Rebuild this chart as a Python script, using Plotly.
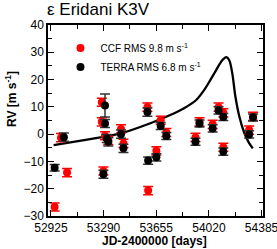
import plotly.graph_objects as go

# CCF (red) measurements
ccf_jd = [52951, 52995, 53037, 53278, 53278, 53289, 53300, 53323, 53411, 53428,
          53594, 53599, 53656, 53686, 53725, 53927, 53955, 54046, 54087, 54120,
          54120, 54299, 54326]
ccf_rv = [-26.7, -1.3, -14.1, 11.7, 4.5, -13.5, -0.6, -2.3, 1.9, -3.4,
          9.9, -20.7, -6.1, 5.1, 0.6, -1.2, 4.5, 3.6, 9.9, 7.8,
          -4.8, 1.5, 6.5]
ccf_err = [1.5] * len(ccf_rv)

# TERRA (black) measurements
terra_jd = [52951, 53015, 53289, 53300, 53300, 53312, 53323, 53411, 53428, 53594,
            53599, 53656, 53686, 53725, 53927, 53955, 54046, 54087, 54120, 54120,
            54299, 54326]
terra_rv = [-12.3, -1.1, -14.7, 10.5, 3.9, -1.6, -2.8, 0.0, -5.2, 8.1,
            -9.7, -8.5, 3.0, -0.7, -2.8, 3.9, 2.1, 8.7, 6.3, -6.4,
            -0.1, 6.1]
terra_err = [1.2, 1.5, 1.5, 4.2, 1.5, 1.5, 1.5, 1.5, 1.5, 1.5,
             1.3, 1.3, 1.3, 1.3, 1.3, 1.3, 1.3, 1.3, 1.3, 1.3,
             1.3, 1.3]

# Orbit curve
curve_jd = [52944, 53197, 53404, 53610, 53748, 53851, 53934, 53989, 54030, 54065,
            54092, 54120, 54141, 54162, 54183, 54203, 54231, 54265, 54296, 54324]
curve_rv = [-4.0, -1.8, 0.2, 3.9, 6.9, 9.6, 12.6, 16.3, 19.8, 23.0,
            25.5, 27.5, 28.2, 27.0, 22.0, 14.0, 6.5, 0.5, -3.0, -5.2]

x_ticks = [52925, 53290, 53655, 54020, 54385]
y_ticks = [-30, -20, -10, 0, 10, 20, 30, 40]

FONT = "Liberation Sans, Arial, sans-serif"
W, H = 277, 249

fig = go.Figure()
fig.add_trace(go.Scatter(
    x=curve_jd, y=curve_rv, mode="lines",
    line=dict(color="black", width=2.3, shape="spline", smoothing=0.8),
    showlegend=False, hoverinfo="skip"))
fig.add_trace(go.Scatter(
    x=ccf_jd, y=ccf_rv, mode="markers", name="CCF RMS 9.8 m s<sup>-1</sup>",
    marker=dict(color="#ff0000", size=8),
    error_y=dict(type="data", array=ccf_err, color="#ff0000", thickness=1.5, width=5)))
fig.add_trace(go.Scatter(
    x=terra_jd, y=terra_rv, mode="markers", name="TERRA RMS 6.8 m s<sup>-1</sup>",
    marker=dict(color="black", size=8),
    error_y=dict(type="data", array=terra_err, color="#333333", thickness=1.5, width=5)))

axis_common = dict(showline=True, linecolor="black", linewidth=1.5, mirror="ticks",
                   ticks="inside", ticklen=6, tickwidth=1.2, tickcolor="black",
                   showgrid=False, zeroline=False, automargin=False,
                   ticklabeloverflow="allow",
                   tickfont=dict(family=FONT, size=12, color="black"))

fig.update_xaxes(range=[52905, 54395], tickvals=x_ticks, ticktext=[str(v) for v in x_ticks],
                 minor=dict(ticks="inside", ticklen=4, tickwidth=1.2, tickcolor="black",
                            dtick=182.5, tick0=52925),
                 **axis_common)
fig.update_yaxes(range=[-30, 40], tickvals=y_ticks,
                 minor=dict(ticks="inside", ticklen=4, tickwidth=1.2, tickcolor="black", dtick=5),
                 **axis_common)

fig.add_annotation(text="<b>JD-2400000 [days]</b>", xref="paper", yref="paper",
                   x=(154.5 - 48) / 215, y=-(241 - 216) / 191, xanchor="center", yanchor="middle",
                   showarrow=False, font=dict(family=FONT, size=12, color="black"))
fig.add_annotation(text="<b>RV [m s<sup>-1</sup>]</b>", xref="paper", yref="paper",
                   x=-(48 - 11) / 215, y=(216 - 99) / 191, xanchor="center", yanchor="middle",
                   textangle=-90, showarrow=False, font=dict(family=FONT, size=12, color="black"))

fig.update_layout(
    width=W, height=H, autosize=False,
    margin=dict(l=48, r=14, t=25, b=33, pad=0),
    paper_bgcolor="white", plot_bgcolor="white",
    title=dict(text="ε Eridani K3V", x=47 / W, xanchor="left", y=1 - 9 / H, yanchor="middle",
               font=dict(family=FONT, size=17, color="black")),
    legend=dict(x=0.058, y=0.955, xanchor="left", yanchor="top", bgcolor="rgba(0,0,0,0)",
                font=dict(family=FONT, size=10, color="black"),
                tracegroupgap=0, itemwidth=30),
    showlegend=True,
)

fig.write_html("out.html", config={"displayModeBar": False},
               post_script=["document.body.style.margin='0';"])
